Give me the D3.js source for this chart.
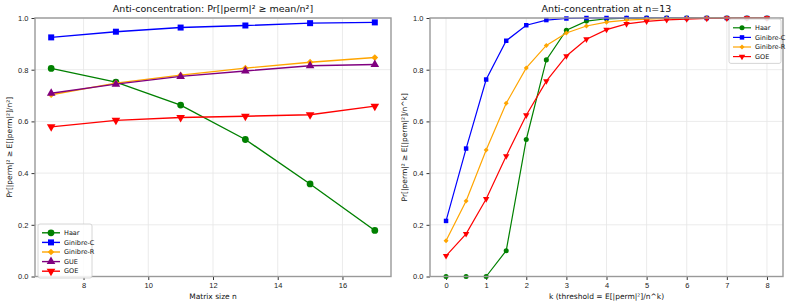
<!DOCTYPE html>
<html>
<head>
<meta charset="utf-8">
<script src="https://cdn.jsdelivr.net/npm/d3@7"></script>
<style>
  body { margin: 0; background: #fff; }
  svg { font-family: "DejaVu Sans", sans-serif; }
</style>
</head>
<body>
<script>
// left panel: threshold mean/n^2 vs matrix size
const sizes = [7, 9, 11, 13, 15, 17];
const haarN = [0.805, 0.752, 0.663, 0.530, 0.358, 0.178];
const ginCN = [0.925, 0.947, 0.963, 0.971, 0.980, 0.983];
const ginRN = [0.703, 0.748, 0.779, 0.806, 0.829, 0.847];
const gueN = [0.709, 0.744, 0.774, 0.795, 0.815, 0.820];
const goeN = [0.579, 0.604, 0.615, 0.620, 0.626, 0.659];

// right panel: n=13, threshold E/n^k vs k
const ks = [0, 0.5, 1, 1.5, 2, 2.5, 3, 3.5, 4, 4.5, 5, 5.5, 6, 6.5, 7, 7.5, 8];
const haarK = [0, 0, 0, 0.100, 0.530, 0.838, 0.953, 0.988, 0.997, 0.999, 1, 1, 1, 1, 1, 1, 1];
const ginCK = [0.215, 0.495, 0.762, 0.912, 0.972, 0.992, 0.998, 1, 1, 1, 1, 1, 1, 1, 1, 1, 1];
const ginRK = [0.138, 0.292, 0.489, 0.670, 0.807, 0.894, 0.942, 0.969, 0.984, 0.992, 0.996, 0.998, 0.999, 1, 1, 1, 1];
const goeK = [0.080, 0.165, 0.300, 0.466, 0.624, 0.756, 0.853, 0.918, 0.955, 0.977, 0.987, 0.993, 0.996, 0.998, 0.999, 1, 1];

const yTicks = [0, 0.2, 0.4, 0.6, 0.8, 1.0];

const svg = d3.select('body').append('svg').attr('width', 793).attr('height', 307);

// matplotlib-like markers: diamond is a square turned 45 degrees
function marker(kind, size) {
  if (kind === 'circle') return { d: d3.symbol().type(d3.symbolCircle).size(size)(), rot: 0 };
  if (kind === 'square') return { d: d3.symbol().type(d3.symbolSquare).size(size)(), rot: 0 };
  if (kind === 'diamond') return { d: d3.symbol().type(d3.symbolSquare).size(size * 0.62)(), rot: 45 };
  if (kind === 'up') return { d: d3.symbol().type(d3.symbolTriangle).size(size * 0.9)(), rot: 0 };
  return { d: d3.symbol().type(d3.symbolTriangle).size(size * 0.9)(), rot: 180 };
}

function panel(opt) {
  const x = d3.scaleLinear().domain(opt.xDomain).range([opt.left, opt.right]);
  const y = d3.scaleLinear().domain([0, 1]).range([276.5, 18]);
  const g = svg.append('g');

  // grid
  g.append('g').selectAll('line').data(opt.xTicks).join('line')
    .attr('x1', d => x(d)).attr('x2', d => x(d)).attr('y1', y(0)).attr('y2', y(1))
    .style('stroke', '#e6e6e6').style('stroke-width', 0.8);
  g.append('g').selectAll('line').data(yTicks).join('line')
    .attr('x1', opt.left).attr('x2', opt.right).attr('y1', d => y(d)).attr('y2', d => y(d))
    .style('stroke', '#e6e6e6').style('stroke-width', 0.8);

  // axes
  const xa = g.append('g').attr('transform', `translate(0,${y(0)})`)
    .call(d3.axisBottom(x).tickValues(opt.xTicks).tickFormat(d3.format('d')).tickSize(3.5).tickPadding(3));
  const ya = g.append('g').attr('transform', `translate(${opt.left},0)`)
    .call(d3.axisLeft(y).tickValues(yTicks).tickFormat(d3.format('.1f')).tickSize(3.5).tickPadding(3));
  [xa, ya].forEach(a => {
    a.select('.domain').remove();
    a.selectAll('text').style('font-size', '7.5px').style('fill', '#222');
    a.selectAll('line').style('stroke', '#333');
  });

  // series
  opt.series.forEach(s => {
    const pts = opt.xs.map((v, i) => [v, s.values[i]]);
    const m = marker(s.marker, opt.ms);
    g.append('path')
      .attr('d', d3.line().x(d => x(d[0])).y(d => y(d[1]))(pts))
      .style('fill', 'none').style('stroke', s.color).style('stroke-width', opt.lw);
    g.append('g').selectAll('path').data(pts).join('path')
      .attr('d', m.d)
      .attr('transform', d => `translate(${x(d[0])},${y(d[1])}) rotate(${m.rot})`)
      .style('fill', s.color);
  });

  // spines
  g.append('rect')
    .attr('x', opt.left).attr('y', y(1)).attr('width', opt.right - opt.left).attr('height', y(0) - y(1))
    .style('fill', 'none').style('stroke', '#999').style('stroke-width', 1.4);

  // titles
  g.append('text').attr('x', (opt.left + opt.right) / 2).attr('y', 12)
    .attr('text-anchor', 'middle').style('font-size', '9.5px').style('fill', '#111').text(opt.title);
  g.append('text').attr('x', (opt.left + opt.right) / 2).attr('y', 299)
    .attr('text-anchor', 'middle').style('font-size', '7.5px').style('fill', '#111').text(opt.xLabel);
  g.append('text').attr('transform', `translate(${opt.left - 23},${(y(0) + y(1)) / 2}) rotate(-90)`)
    .attr('text-anchor', 'middle').style('font-size', '7.5px').style('fill', '#111').text(opt.yLabel);

  // legend
  const L = opt.legend;
  const lg = g.append('g').attr('transform', `translate(${L.x},${L.y})`);
  lg.append('rect').attr('width', L.w).attr('height', opt.series.length * L.step + 6).attr('rx', 2)
    .style('fill', 'rgba(255,255,255,0.85)').style('stroke', '#ccc').style('stroke-width', 0.8);
  opt.series.forEach((s, i) => {
    const cy = 6 + L.step * i + L.step / 2 - 2;
    const m = marker(s.marker, opt.ms);
    lg.append('line').attr('x1', 4).attr('x2', 22).attr('y1', cy).attr('y2', cy)
      .style('stroke', s.color).style('stroke-width', opt.lw);
    lg.append('path')
      .attr('d', m.d)
      .attr('transform', `translate(13,${cy}) rotate(${m.rot})`)
      .style('fill', s.color);
    lg.append('text').attr('x', 26).attr('y', cy).attr('dy', '0.35em')
      .style('font-size', '6.5px').style('fill', '#111').text(s.name);
  });
}

panel({
  left: 35, right: 391, xDomain: [6.5, 17.5], xTicks: [8, 10, 12, 14, 16], xs: sizes,
  lw: 1.4, ms: 36,
  title: 'Anti-concentration: Pr[|perm|² ≥ mean/n²]',
  xLabel: 'Matrix size n',
  yLabel: 'Pr[|perm|² ≥ E[|perm|²]/n²]',
  legend: { x: 38, y: 224, w: 54, step: 9.6 },
  series: [
    { name: 'Haar', values: haarN, color: 'green', marker: 'circle' },
    { name: 'Ginibre-C', values: ginCN, color: 'blue', marker: 'square' },
    { name: 'Ginibre-R', values: ginRN, color: 'orange', marker: 'diamond' },
    { name: 'GUE', values: gueN, color: 'purple', marker: 'up' },
    { name: 'GOE', values: goeN, color: 'red', marker: 'down' }
  ]
});

panel({
  left: 430, right: 783, xDomain: [-0.4, 8.4], xTicks: [0, 1, 2, 3, 4, 5, 6, 7, 8], xs: ks,
  lw: 1.2, ms: 20,
  title: 'Anti-concentration at n=13',
  xLabel: 'k (threshold = E[|perm|²]/n^k)',
  yLabel: 'Pr[|perm|² ≥ E[|perm|²]/n^k]',
  legend: { x: 729, y: 19, w: 52, step: 9.6 },
  series: [
    { name: 'Haar', values: haarK, color: 'green', marker: 'circle' },
    { name: 'Ginibre-C', values: ginCK, color: 'blue', marker: 'square' },
    { name: 'Ginibre-R', values: ginRK, color: 'orange', marker: 'diamond' },
    { name: 'GOE', values: goeK, color: 'red', marker: 'down' }
  ]
});
</script>
</body>
</html>
